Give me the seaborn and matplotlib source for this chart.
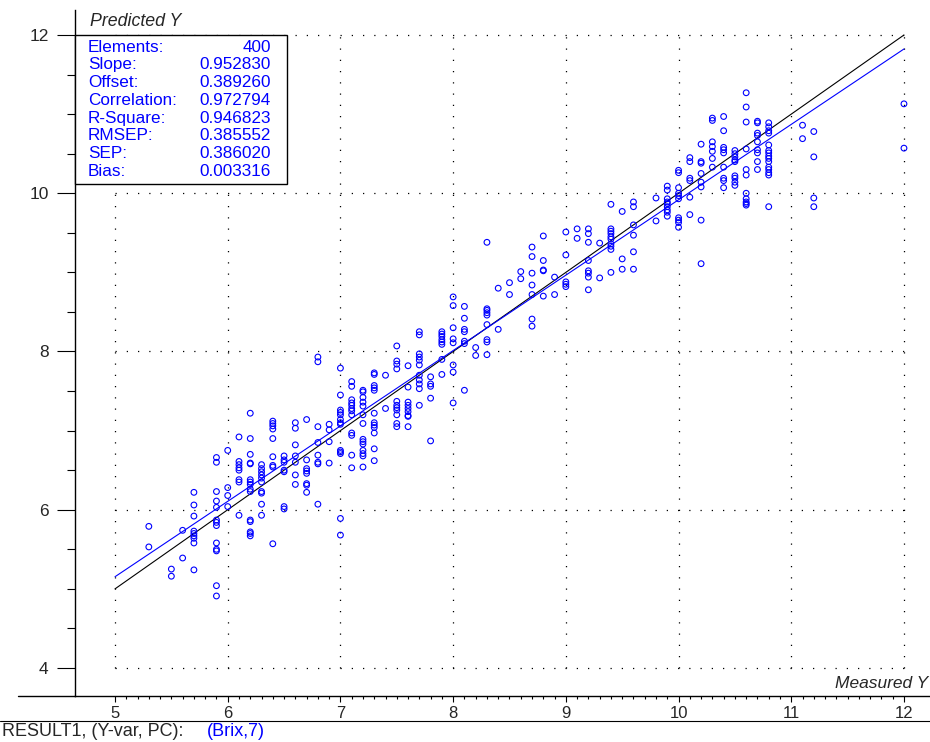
import numpy as np
import pandas as pd
import seaborn as sns
import matplotlib.pyplot as plt
from matplotlib.lines import Line2D
from matplotlib.patches import Rectangle
from matplotlib.ticker import FixedLocator

## 数据 (按列读取: 每个 Measured 值对应一组 Predicted 值)
measured_cols = [5.3, 5.5, 5.6, 5.7, 5.9, 6.0, 6.1, 6.2, 6.3, 6.4,
                 6.5, 6.6, 6.7, 6.8, 6.9, 7.0, 7.1, 7.2, 7.3, 7.4,
                 7.5, 7.6, 7.7, 7.8, 7.9, 8.0, 8.1, 8.2, 8.3, 8.4,
                 8.5, 8.6, 8.7, 8.8, 8.9, 9.0, 9.1, 9.2, 9.3, 9.4,
                 9.5, 9.6, 9.8, 9.9, 10.0, 10.1, 10.2, 10.3, 10.4, 10.5,
                 10.6, 10.7, 10.8, 11.1, 11.2, 12.0]
predicted_cols = [
    [5.79, 5.53],
    [5.25, 5.16],
    [5.74, 5.39],
    [6.22, 6.06, 5.92, 5.73, 5.70, 5.67, 5.64, 5.58, 5.24],
    [6.66, 6.60, 6.23, 6.11, 6.03, 5.87, 5.84, 5.80, 5.58, 5.50, 5.48, 5.04, 4.91],
    [6.75, 6.28, 6.18, 6.04],
    [6.92, 6.61, 6.57, 6.53, 6.50, 6.38, 6.35, 5.93],
    [7.22, 6.90, 6.70, 6.59, 6.58, 6.38, 6.35, 6.32, 6.26, 6.23, 5.87, 5.85, 5.72, 5.70, 5.67],
    [6.57, 6.52, 6.48, 6.44, 6.40, 6.35, 6.23, 6.21, 6.07, 5.93],
    [7.12, 7.09, 7.06, 7.02, 6.90, 6.67, 6.56, 6.54, 5.57],
    [6.68, 6.63, 6.60, 6.50, 6.48, 6.04, 6.01],
    [7.10, 7.03, 6.82, 6.68, 6.60, 6.44, 6.32],
    [7.14, 6.63, 6.52, 6.49, 6.46, 6.33, 6.31, 6.22],
    [7.93, 7.87, 7.05, 6.85, 6.69, 6.60, 6.58, 6.07],
    [7.08, 7.01, 6.86, 6.59],
    [7.79, 7.45, 7.26, 7.23, 7.20, 7.14, 7.10, 7.08, 6.75, 6.73, 6.71, 5.89, 5.68],
    [7.62, 7.56, 7.39, 7.35, 7.32, 7.28, 7.25, 7.20, 6.97, 6.94, 6.69, 6.53],
    [7.51, 7.49, 7.42, 7.36, 7.31, 7.20, 7.09, 6.89, 6.86, 6.83, 6.75, 6.71, 6.68, 6.54],
    [7.73, 7.71, 7.57, 7.54, 7.51, 7.22, 7.10, 7.07, 7.04, 6.97, 6.77, 6.62],
    [7.70, 7.28],
    [8.07, 7.88, 7.84, 7.78, 7.37, 7.32, 7.29, 7.26, 7.20, 7.09, 7.05],
    [7.82, 7.55, 7.36, 7.32, 7.28, 7.24, 7.19, 7.18, 7.05],
    [8.25, 8.21, 7.97, 7.93, 7.89, 7.83, 7.70, 7.64, 7.59, 7.53, 7.32],
    [7.68, 7.59, 7.56, 7.41, 6.87],
    [8.25, 8.22, 8.19, 8.15, 8.12, 8.09, 7.90, 7.71],
    [8.69, 8.58, 8.30, 8.16, 8.11, 7.83, 7.74, 7.35],
    [8.57, 8.42, 8.28, 8.25, 8.13, 8.10, 7.51],
    [8.05, 7.95],
    [9.38, 8.54, 8.52, 8.49, 8.46, 8.34, 8.15, 8.12, 7.96],
    [8.80, 8.28],
    [8.87, 8.72],
    [9.01, 8.92],
    [9.32, 9.20, 8.99, 8.84, 8.72, 8.41, 8.32],
    [9.46, 9.15, 9.03, 9.02, 8.70],
    [8.94, 8.72],
    [9.51, 9.22, 8.88, 8.85, 8.82],
    [9.55, 9.43],
    [9.55, 9.49, 9.38, 9.15, 9.02, 8.99, 8.94, 8.78],
    [9.37, 8.93],
    [9.86, 9.55, 9.52, 9.49, 9.45, 9.42, 9.36, 9.33, 9.29, 9.00],
    [9.77, 9.17, 9.04],
    [9.89, 9.83, 9.60, 9.47, 9.26, 9.04],
    [9.94, 9.65],
    [10.09, 10.04, 9.93, 9.89, 9.87, 9.83, 9.79, 9.76, 9.71],
    [10.29, 10.26, 10.07, 10.00, 9.97, 9.93, 9.69, 9.66, 9.63, 9.57],
    [10.45, 10.40, 10.19, 10.16, 9.95, 9.73],
    [10.62, 10.40, 10.38, 10.25, 10.14, 10.08, 9.66, 9.11],
    [10.95, 10.92, 10.65, 10.59, 10.53, 10.44, 10.33],
    [10.97, 10.79, 10.58, 10.55, 10.51, 10.33, 10.19, 10.16, 10.07],
    [10.54, 10.50, 10.46, 10.42, 10.40, 10.22, 10.19, 10.14, 10.10],
    [11.27, 11.09, 10.90, 10.56, 10.30, 10.23, 10.00, 9.93, 9.89, 9.87, 9.85],
    [10.91, 10.89, 10.76, 10.73, 10.65, 10.55, 10.51, 10.40, 10.30],
    [10.89, 10.84, 10.79, 10.76, 10.61, 10.54, 10.51, 10.47, 10.44, 10.40,
     10.33, 10.30, 10.26, 10.23, 9.83],
    [10.86, 10.69],
    [10.78, 10.46, 9.94, 9.83],
    [11.13, 10.57],
]

stat_names = ["Elements:", "Slope:", "Offset:", "Correlation:",
              "R-Square:", "RMSEP:", "SEP:", "Bias:"]
stat_values = ["400", "0.952830", "0.389260", "0.972794",
               "0.946823", "0.385552", "0.386020", "0.003316"]
slope = 0.952830
offset = 0.389260

x_ticks = [5, 6, 7, 8, 9, 10, 11, 12]
y_ticks = [4, 6, 8, 10, 12]

measured = []
predicted = []
for m, ys in zip(measured_cols, predicted_cols):
    measured += [m] * len(ys)
    predicted += ys
df = pd.DataFrame({"Measured Y": measured, "Predicted Y": predicted})

sns.set_style("white")
plt.rcParams['font.family'] = ['Liberation Sans', 'DejaVu Sans']

W, H = 930, 742
def fx(px):
    return px / W
def fy(py):
    return 1 - py / H

fig = plt.figure(figsize=(W / 100, H / 100), dpi=100)
ax = fig.add_axes([fx(75), fy(696), (930 - 75) / W, (696 - 10) / H])

# 点线网格 (只在 5-12, 4-12 范围内)
dots = (0, (1, 8))
for xv in x_ticks:
    ax.plot([xv, xv], [y_ticks[0], y_ticks[-1]], color='black', lw=0.9, ls=dots, zorder=1)
for yv in y_ticks:
    ax.plot([x_ticks[0], x_ticks[-1]], [yv, yv], color='black', lw=0.9, ls=dots, zorder=1)

sns.scatterplot(data=df, x="Measured Y", y="Predicted Y", ax=ax, marker='o', s=17,
                facecolor='none', edgecolor='blue', linewidth=0.8, zorder=3)

# 目标线和拟合线
xl = np.array([x_ticks[0], x_ticks[-1]], dtype=float)
ax.plot(xl, xl, color='black', lw=0.8, zorder=2)
ax.plot(xl, slope * xl + offset, color='blue', lw=0.8, zorder=2)

ax.set_xlim(4.645, 12.231)
ax.set_ylim(3.646, 12.316)
ax.set_xlabel("")
ax.set_ylabel("")

ax.set_xticks(x_ticks)
ax.set_yticks(y_ticks)
ax.xaxis.set_minor_locator(FixedLocator(np.arange(50, 121) / 10))
ax.yaxis.set_minor_locator(FixedLocator(np.arange(8, 25) / 2))
ax.tick_params(axis='x', which='major', direction='out', length=4.5, width=0.8,
               pad=3, labelsize=12, bottom=True, color='black')
ax.tick_params(axis='x', which='minor', direction='out', length=2.2, width=0.8,
               bottom=True, color='black')
ax.tick_params(axis='y', which='major', direction='out', length=13, width=0.8,
               pad=6, labelsize=12.5, left=True, color='black')
ax.tick_params(axis='y', which='minor', direction='out', length=6, width=0.8,
               left=True, color='black')

for side in ['top', 'right']:
    ax.spines[side].set_visible(False)
for side in ['left', 'bottom']:
    ax.spines[side].set_color('black')
    ax.spines[side].set_linewidth(1.0)

# 底部轴线向左延伸, 状态栏分隔线
fig.add_artist(Line2D([fx(18), fx(75)], [fy(696), fy(696)], color='black', lw=1.0))
fig.add_artist(Line2D([0, 1], [fy(721), fy(721)], color='black', lw=0.8))

fig.text(fx(90), fy(22), "Predicted Y", fontsize=12.8, style='italic', ha='left', va='center')
fig.text(fx(928), fy(683), "Measured Y", fontsize=12.5, style='italic', ha='right', va='center')

# 统计信息框
fig.add_artist(Rectangle((fx(75), fy(184)), (287 - 75) / W, (184 - 35) / H,
                         transform=fig.transFigure, facecolor='white',
                         edgecolor='black', lw=1.0, zorder=5))
for i, (name, val) in enumerate(zip(stat_names, stat_values)):
    yy = fy(47 + i * 17.8)
    fig.text(fx(88), yy, name, color='blue', fontsize=12.3, ha='left', va='center', zorder=6)
    fig.text(fx(271), yy, val, color='blue', fontsize=12.3, ha='right', va='center', zorder=6)

fig.text(fx(2), fy(731), "RESULT1, (Y-var, PC): ", fontsize=13, ha='left', va='center')
fig.text(fx(207), fy(731), "(Brix,7)", fontsize=13, color='blue', ha='left', va='center')

plt.savefig("out.png", dpi=100)
